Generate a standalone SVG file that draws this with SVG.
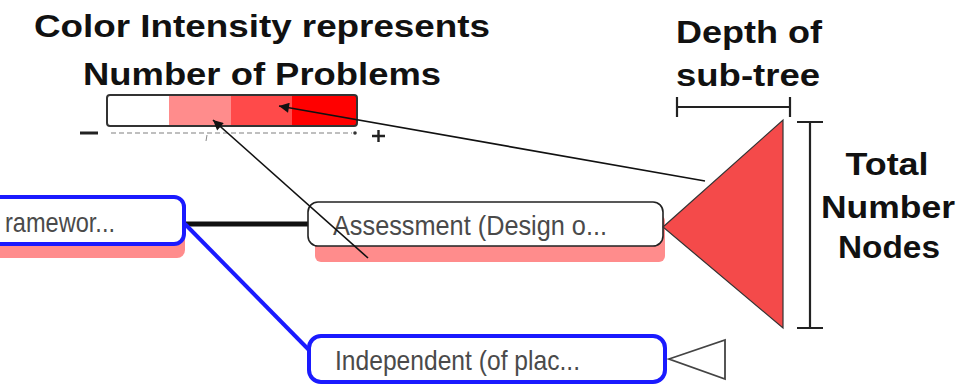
<svg xmlns="http://www.w3.org/2000/svg" width="958" height="387" viewBox="0 0 958 387">
  <defs>
    <style>
      .title { font-family: "Liberation Sans", Arial, sans-serif; font-weight: bold; font-size: 31px; fill: #111; }
      .label { font-family: "Liberation Sans", Arial, sans-serif; font-size: 28px; fill: #4a4a4a; }
      .shadow { fill: #ff8c8c; }
      .blue { fill: #fff; stroke: #1a1aff; stroke-width: 4; }
      .plain { fill: #fff; stroke: #222; stroke-width: 1.6; }
      .pointer { stroke: #111; stroke-width: 1.6; fill: none; marker-end: url(#arrow); }
      .bracket { stroke: #222; stroke-width: 2.2; fill: none; }
    </style>
    <marker id="arrow" viewBox="0 0 10 10" refX="10" refY="5" markerWidth="14" markerHeight="10" markerUnits="userSpaceOnUse" orient="auto">
      <path d="M0,0 L10,5 L0,10 Z" fill="#111"/>
    </marker>
  </defs>

  <rect width="958" height="387" fill="#fff"/>

  <!-- legend headings -->
  <text class="title" x="262" y="37" text-anchor="middle" textLength="456" lengthAdjust="spacingAndGlyphs">Color Intensity represents</text>
  <text class="title" x="262" y="85" text-anchor="middle" textLength="358" lengthAdjust="spacingAndGlyphs">Number of Problems</text>
  <text class="title" x="749" y="43" text-anchor="middle" textLength="146" lengthAdjust="spacingAndGlyphs">Depth of</text>
  <text class="title" x="748" y="86" text-anchor="middle" textLength="144" lengthAdjust="spacingAndGlyphs">sub-tree</text>
  <text class="title" x="887" y="175" text-anchor="middle" textLength="83" lengthAdjust="spacingAndGlyphs">Total</text>
  <text class="title" x="888" y="218" text-anchor="middle" textLength="134" lengthAdjust="spacingAndGlyphs">Number</text>
  <text class="title" x="889" y="258" text-anchor="middle" textLength="102" lengthAdjust="spacingAndGlyphs">Nodes</text>

  <!-- colour scale -->
  <g id="scale">
    <rect x="107" y="95" width="62" height="31" fill="#fff"/>
    <rect x="169" y="95" width="62" height="31" fill="#ff8c8c"/>
    <rect x="231" y="95" width="61" height="31" fill="#ff4a4a"/>
    <rect x="292" y="95" width="65" height="31" fill="#ff0000"/>
    <rect x="107" y="95" width="250" height="31" rx="3" fill="none" stroke="#333" stroke-width="2"/>
    <line x1="80" y1="133" x2="98" y2="133" stroke="#222" stroke-width="3"/>
    <line x1="111" y1="133" x2="352" y2="133" stroke="#aaa" stroke-width="1.5" stroke-dasharray="5 3"/>
    <line x1="207" y1="135" x2="206" y2="141" stroke="#888" stroke-width="1"/>
    <circle cx="355" cy="133" r="1.8" fill="#333"/>
    <path d="M372,136 H385 M378.5,130 V142" stroke="#222" stroke-width="2.4"/>
  </g>

  <!-- depth bracket -->
  <path class="bracket" d="M677,107 H790 M677,97 V117 M790,97 V117"/>
  <!-- node-count bracket -->
  <path class="bracket" d="M810,122 V328 M797,122 H823 M797,328 H823"/>

  <!-- connectors -->
  <g id="connectors">
    <line x1="185" y1="224" x2="308" y2="224" stroke="#111" stroke-width="5"/>
    <line x1="185" y1="224" x2="309" y2="350" stroke="#1a1aff" stroke-width="4"/>
  </g>

  <!-- nodes -->
  <g id="node-framework">
    <rect class="shadow" x="-20" y="210" width="205" height="48" rx="8"/>
    <rect class="blue" x="-20" y="197" width="204" height="47" rx="10"/>
    <text class="label" x="5" y="232" textLength="110" lengthAdjust="spacingAndGlyphs">ramewor...</text>
  </g>

  <g id="node-assessment">
    <rect class="shadow" x="315" y="215" width="350" height="47" rx="6"/>
    <rect class="plain" x="308" y="202" width="355" height="44" rx="10"/>
    <text class="label" x="333" y="235" textLength="274" lengthAdjust="spacingAndGlyphs">Assessment (Design o...</text>
  </g>

  <g id="subtree-assessment">
    <polygon points="663,227 783,120 783,328" fill="#f44a4a" stroke="#333" stroke-width="1.2"/>
  </g>

  <g id="node-independent">
    <rect class="blue" x="309" y="336" width="356" height="46" rx="12"/>
    <text class="label" x="335" y="370" textLength="245" lengthAdjust="spacingAndGlyphs">Independent (of plac...</text>
  </g>

  <g id="subtree-independent">
    <polygon points="669,359 725,340 725,379" fill="#fff" stroke="#444" stroke-width="1.8"/>
  </g>

  <!-- legend pointers -->
  <g id="pointers">
    <line class="pointer" x1="705" y1="181" x2="279" y2="106"/>
    <line class="pointer" x1="368" y1="258" x2="213" y2="120"/>
  </g>
</svg>
